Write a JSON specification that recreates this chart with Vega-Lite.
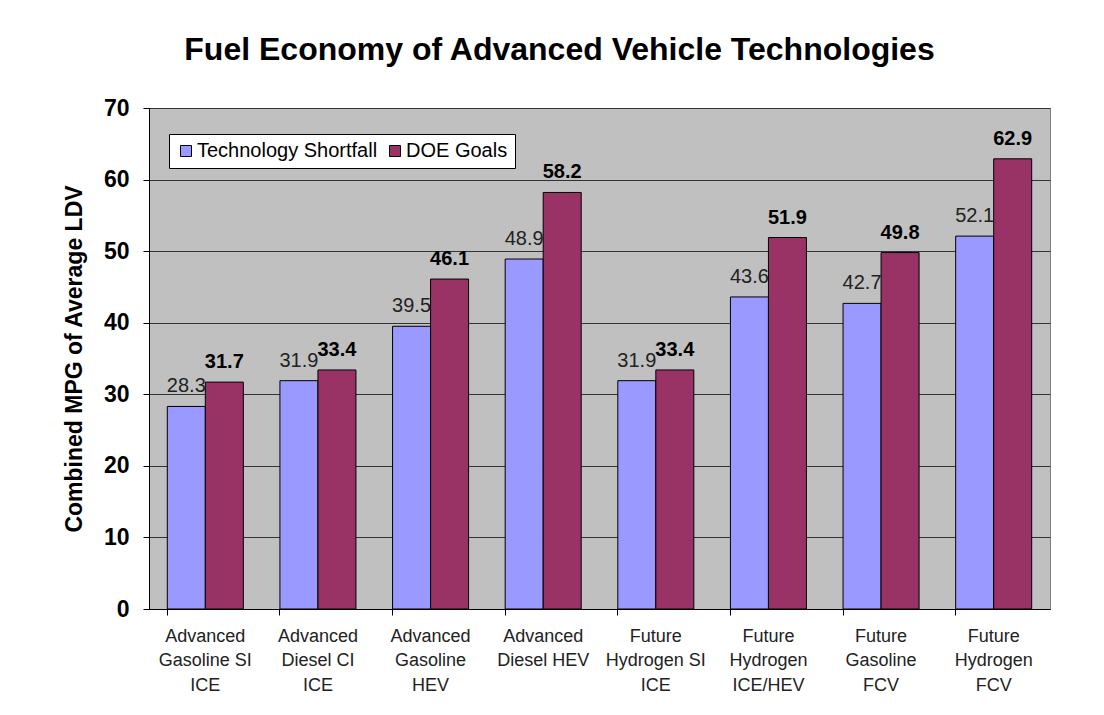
{
  "$schema": "https://vega.github.io/schema/vega-lite/v6.json",
  "autosize": "none",
  "width": 901,
  "height": 501,
  "padding": {"left": 149, "top": 108, "right": 54, "bottom": 106},
  "background": "white",
  "title": {
    "text": "Fuel Economy of Advanced Vehicle Technologies",
    "font": "Liberation Sans",
    "fontSize": 32,
    "fontWeight": "bold",
    "color": "black",
    "anchor": "middle",
    "frame": "group",
    "offset": 30,
    "dx": -40
  },
  "data": {
    "values": [
      {"tech": "Advanced|Gasoline SI|ICE", "series": "Technology Shortfall", "mpg": 28.3},
      {"tech": "Advanced|Gasoline SI|ICE", "series": "DOE Goals", "mpg": 31.7},
      {"tech": "Advanced|Diesel CI|ICE", "series": "Technology Shortfall", "mpg": 31.9},
      {"tech": "Advanced|Diesel CI|ICE", "series": "DOE Goals", "mpg": 33.4},
      {"tech": "Advanced|Gasoline|HEV", "series": "Technology Shortfall", "mpg": 39.5},
      {"tech": "Advanced|Gasoline|HEV", "series": "DOE Goals", "mpg": 46.1},
      {"tech": "Advanced|Diesel HEV", "series": "Technology Shortfall", "mpg": 48.9},
      {"tech": "Advanced|Diesel HEV", "series": "DOE Goals", "mpg": 58.2},
      {"tech": "Future|Hydrogen SI|ICE", "series": "Technology Shortfall", "mpg": 31.9},
      {"tech": "Future|Hydrogen SI|ICE", "series": "DOE Goals", "mpg": 33.4},
      {"tech": "Future|Hydrogen|ICE/HEV", "series": "Technology Shortfall", "mpg": 43.6},
      {"tech": "Future|Hydrogen|ICE/HEV", "series": "DOE Goals", "mpg": 51.9},
      {"tech": "Future|Gasoline|FCV", "series": "Technology Shortfall", "mpg": 42.7},
      {"tech": "Future|Gasoline|FCV", "series": "DOE Goals", "mpg": 49.8},
      {"tech": "Future|Hydrogen|FCV", "series": "Technology Shortfall", "mpg": 52.1},
      {"tech": "Future|Hydrogen|FCV", "series": "DOE Goals", "mpg": 62.9}
    ]
  },
  "encoding": {
    "x": {
      "field": "tech",
      "type": "nominal",
      "sort": null,
      "scale": {"paddingInner": 0.325, "paddingOuter": 0.1625},
      "axis": {
        "title": null,
        "labelAngle": 0,
        "labelExpr": "split(datum.value, '|')",
        "labelFont": "Liberation Sans",
        "labelFontSize": 18,
        "labelColor": "#222222",
        "labelLineHeight": 24.5,
        "labelPadding": 12,
        "labelBaseline": "top",
        "bandPosition": 0,
        "tickColor": "black",
        "tickSize": 6,
        "domainColor": "black",
        "labelLimit": 200
      }
    },
    "xOffset": {"field": "series", "type": "nominal", "sort": ["Technology Shortfall", "DOE Goals"], "scale": {"paddingInner": 0, "paddingOuter": 0}},
    "y": {
      "field": "mpg",
      "type": "quantitative",
      "scale": {"domain": [0, 70], "nice": false},
      "axis": {
        "title": "Combined MPG of Average LDV",
        "titleFont": "Liberation Sans",
        "titleFontSize": 23,
        "titleFontWeight": "bold",
        "titleColor": "black",
        "titlePadding": 17,
        "values": [0, 10, 20, 30, 40, 50, 60, 70],
        "labelFont": "Liberation Sans",
        "labelFontSize": 23,
        "labelFontWeight": "bold",
        "labelColor": "black",
        "labelPadding": 14,
        "tickColor": "black",
        "tickSize": 6,
        "domainColor": "black",
        "gridColor": "#333333",
        "gridWidth": 1
      }
    }
  },
  "layer": [
    {
      "mark": {"type": "bar", "stroke": "black", "strokeWidth": 1},
      "encoding": {
        "color": {
          "field": "series",
          "type": "nominal",
          "sort": ["Technology Shortfall", "DOE Goals"],
          "scale": {"domain": ["Technology Shortfall", "DOE Goals"], "range": ["#9999FF", "#993366"]},
          "legend": {
            "title": null,
            "orient": "none",
            "legendX": 20,
            "legendY": 26,
            "direction": "horizontal",
            "fillColor": "white",
            "strokeColor": "black",
            "padding": 7,
            "symbolType": "square",
            "symbolSize": 121,
            "symbolStrokeColor": "black",
            "symbolStrokeWidth": 1,
            "symbolOpacity": 1,
            "labelFont": "Liberation Sans",
            "labelFontSize": 20,
            "labelColor": "black",
            "labelLimit": 400,
            "columnPadding": 7,
            "labelOffset": 1
          }
        }
      }
    },
    {
      "transform": [{"filter": "datum.series === 'Technology Shortfall'"}],
      "mark": {"type": "text", "baseline": "alphabetic", "dy": -14, "font": "Liberation Sans", "fontSize": 20, "color": "#222222"},
      "encoding": {"text": {"field": "mpg", "type": "quantitative", "format": ".1f"}}
    },
    {
      "transform": [{"filter": "datum.series === 'DOE Goals'"}],
      "mark": {"type": "text", "baseline": "alphabetic", "dy": -14, "font": "Liberation Sans", "fontSize": 20, "fontWeight": "bold", "color": "black"},
      "encoding": {"text": {"field": "mpg", "type": "quantitative", "format": ".1f"}}
    }
  ],
  "config": {
    "view": {"fill": "#C0C0C0", "stroke": "#808080", "strokeWidth": 1}
  }
}
